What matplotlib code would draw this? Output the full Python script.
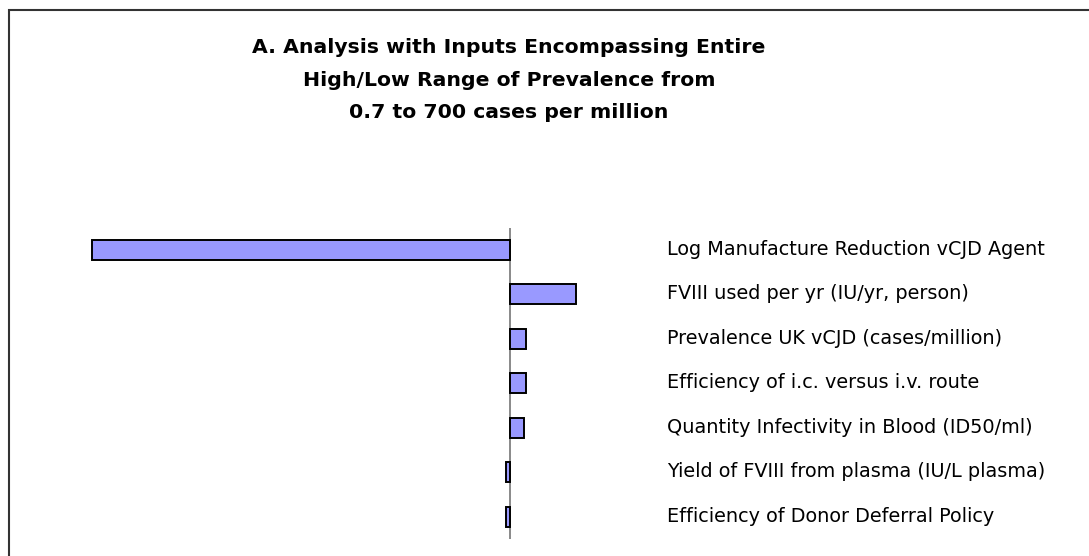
import matplotlib
matplotlib.use("Agg")
import matplotlib.pyplot as plt
from matplotlib.patches import Rectangle
from matplotlib.transforms import blended_transform_factory, ScaledTranslation

plt.rcParams['font.family'] = ['DejaVu Sans']

title_lines = ["A. Analysis with Inputs Encompassing Entire",
               "High/Low Range of Prevalence from",
               "0.7 to 700 cases per million"]
categories = ["Log Manufacture Reduction vCJD Agent",
              "FVIII used per yr (IU/yr, person)",
              "Prevalence UK vCJD (cases/million)",
              "Efficiency of i.c. versus i.v. route",
              "Quantity Infectivity in Blood (ID50/ml)",
              "Yield of FVIII from plasma (IU/L plasma)",
              "Efficiency of Donor Deferral Policy"]
values = [-4.18, 0.66, 0.16, 0.16, 0.14, -0.045, -0.045]

W, H = 1089, 556
fig = plt.figure(figsize=(W / 100, H / 100), dpi=100)
fig.patch.set_facecolor('white')

# axes placement (pixels from top-left)
ax_left, ax_right = 60, 620
ax_top, ax_bottom = 227.5, 539
ax = fig.add_axes([ax_left / W, (H - ax_bottom) / H,
                   (ax_right - ax_left) / W, (ax_bottom - ax_top) / H])
ax.set_xlim(-4.5, 1.1)
ax.set_ylim(len(categories) - 0.5, -0.5)

ypos = list(range(len(categories)))
ax.barh(ypos, values, height=0.44, color='#9999FF', edgecolor='black',
        linewidth=1.4, zorder=3)
ax.axvline(0, color='#808080', lw=1.3, zorder=2)
for s in ax.spines.values():
    s.set_visible(False)
ax.set_xticks([])
ax.set_yticks([])
ax.patch.set_alpha(0)

# category labels on the right
trans = blended_transform_factory(fig.transFigure, ax.transData) + \
    ScaledTranslation(0, -5 / 100, fig.dpi_scale_trans)
for y, lab in zip(ypos, categories):
    ax.text(667 / W, y, lab, transform=trans, ha='left', va='baseline',
            fontsize=13.9, color='black', clip_on=False)

# title
for i, line in enumerate(title_lines):
    base = 53 + i * 32.5
    fig.text(509 / W, (H - base) / H, line, ha='center', va='baseline',
             fontsize=14.7, fontweight='bold', color='black')

# outer frame
fig.patches.append(Rectangle((9 / W, -0.2), 1.2, (H - 10) / H + 0.2,
                             transform=fig.transFigure, fill=False,
                             edgecolor='#333333', linewidth=1.5))

fig.savefig('out.png', dpi=100, facecolor='white')
